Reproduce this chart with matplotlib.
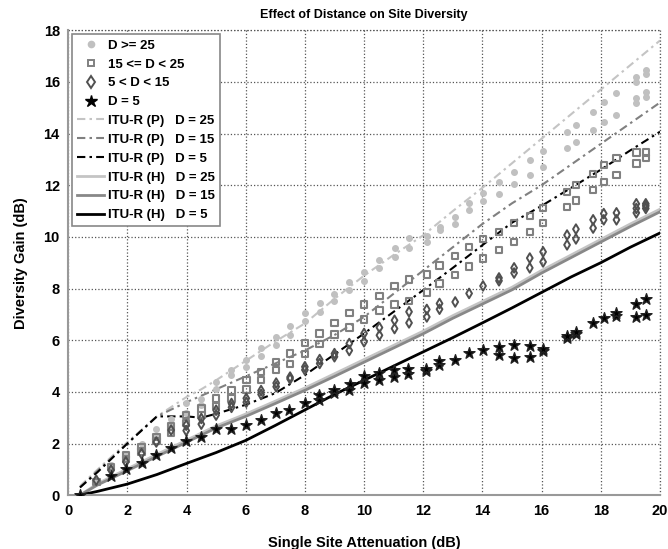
import numpy as np
import matplotlib
matplotlib.use("Agg")
import matplotlib.pyplot as plt
from matplotlib.lines import Line2D

plt.rcParams['font.family'] = ['Liberation Sans', 'DejaVu Sans']
plt.rcParams['font.weight'] = 'bold'

# ---------------- Measured diversity gain (dB) ----------------
# D >= 25 km
d25_x = [0.95, 1.45, 1.45, 1.95, 1.95, 2.48, 2.48, 2.98, 2.98, 3.48, 3.48, 3.99, 3.99, 4.5, 4.5,
         5.0, 5.0, 5.52, 5.52, 6.02, 6.02, 6.52, 6.52, 7.03, 7.03, 7.5, 7.5, 8.0, 8.0, 8.5, 8.5,
         9.0, 9.0, 9.5, 9.5, 10.0, 10.0, 10.52, 10.52, 11.03, 11.03, 11.52, 11.52, 12.12, 12.12,
         12.55, 12.55, 13.08, 13.08, 13.55, 13.55, 14.02, 14.02, 14.56, 14.56, 15.07, 15.07,
         15.6, 15.6, 16.05, 16.05, 16.86, 16.86, 17.16, 17.16, 17.74, 17.74, 18.1, 18.1,
         18.53, 18.53, 19.2, 19.2, 19.2, 19.2, 19.52, 19.52, 19.52, 19.52]
d25_y = [0.6, 1.16, 1.0, 1.6, 1.4, 2.0, 1.8, 2.55, 2.3, 2.95, 2.7, 3.55, 3.2, 3.74, 3.5,
         4.38, 4.13, 4.84, 4.64, 5.23, 4.97, 5.7, 5.38, 6.12, 5.81, 6.55, 6.2, 7.05, 6.73, 7.44, 7.09,
         7.8, 7.5, 8.25, 7.95, 8.64, 8.3, 9.1, 8.79, 9.57, 9.22, 9.95, 9.57, 10.04, 9.82,
         10.39, 10.25, 10.77, 10.5, 11.32, 11.03, 11.7, 11.4, 12.13, 11.67, 12.52, 12.05,
         12.98, 12.4, 13.33, 12.71, 14.07, 13.45, 14.34, 13.68, 14.84, 14.15, 15.23, 14.46,
         15.58, 14.73, 16.2, 16.0, 15.39, 15.2, 16.47, 16.3, 15.6, 15.4]

# 15 <= D < 25 km
d15_x = [0.95, 1.45, 1.95, 1.95, 2.48, 2.48, 2.98, 2.98, 3.48, 3.48, 3.99, 3.99, 4.5, 4.5,
         5.0, 5.0, 5.52, 5.52, 6.02, 6.02, 6.52, 6.52, 7.03, 7.03, 7.5, 7.5, 8.0, 8.0, 8.5, 8.5,
         9.0, 9.0, 9.5, 9.5, 10.0, 10.0, 10.52, 10.52, 11.03, 11.03, 11.52, 11.52, 12.12, 12.12,
         12.55, 12.55, 13.08, 13.08, 13.55, 13.55, 14.02, 14.02, 14.56, 14.56, 15.07, 15.07,
         15.6, 15.6, 16.05, 16.05, 16.86, 16.86, 17.16, 17.16, 17.74, 17.74, 18.1, 18.1,
         18.53, 18.53, 19.2, 19.2, 19.52, 19.52]
d15_y = [0.52, 1.1, 1.55, 1.4, 1.87, 1.7, 2.26, 2.1, 2.65, 2.4, 3.1, 2.8, 3.35, 3.1,
         3.74, 3.45, 4.06, 3.75, 4.45, 4.1, 4.77, 4.45, 5.16, 4.85, 5.48, 5.07, 5.9, 5.46, 6.26, 5.85,
         6.67, 6.23, 7.06, 6.49, 7.39, 6.8, 7.72, 7.14, 8.09, 7.39, 8.35, 7.52, 8.55, 7.85,
         8.9, 8.19, 9.25, 8.52, 9.61, 8.86, 9.91, 9.16, 10.19, 9.5, 10.54, 9.81,
         10.81, 10.19, 11.12, 10.54, 11.74, 11.16, 12.0, 11.4, 12.44, 11.82, 12.79, 12.13,
         13.06, 12.4, 13.26, 12.83, 13.26, 13.06]

# 5 < D < 15 km
d5_x = [0.95, 1.45, 1.95, 2.48, 2.98, 3.48, 3.99, 3.99, 4.5, 4.5,
        5.0, 5.0, 5.52, 5.52, 6.02, 6.02, 6.52, 6.52, 7.03, 7.03, 7.5, 7.5, 8.0, 8.0, 8.5, 8.5,
        9.0, 9.0, 9.5, 9.5, 10.0, 10.0, 10.52, 10.52, 11.03, 11.03, 11.52, 11.52, 12.12, 12.12,
        12.55, 12.55, 13.08, 13.55, 14.02, 14.56, 14.56, 15.07, 15.07,
        15.6, 15.6, 16.05, 16.05, 16.86, 16.86, 17.16, 17.16, 17.74, 17.74, 18.1, 18.1,
        18.53, 18.53, 19.2, 19.2, 19.2, 19.52, 19.52, 19.52]
d5_y = [0.58, 0.97, 1.29, 1.61, 2.06, 2.52, 2.71, 2.5, 2.97, 2.75,
        3.29, 3.1, 3.55, 3.4, 3.75, 3.6, 4.05, 3.9, 4.34, 4.2, 4.57, 4.5, 4.97, 4.85, 5.25, 5.1,
        5.48, 5.36, 5.87, 5.6, 6.26, 5.94, 6.49, 6.19, 6.77, 6.45, 7.1, 6.67, 7.19, 6.9,
        7.42, 7.2, 7.48, 7.81, 8.1, 8.41, 8.3, 8.8, 8.6,
        9.18, 8.8, 9.42, 9.03, 10.07, 9.69, 10.3, 9.92, 10.66, 10.34, 10.9, 10.66,
        10.93, 10.66, 11.28, 10.93, 11.1, 11.28, 11.1, 11.2]

# D = 5 km
d0_x = [0.4, 1.45, 1.95, 2.48, 2.97, 3.48, 3.99, 4.5, 5.0, 5.52, 6.01, 6.52, 7.03, 7.47,
        8.0, 8.48, 8.48, 8.99, 9.0, 9.49, 9.52, 10.0, 10.0, 10.5, 10.5, 11.0, 11.0, 11.5, 11.5,
        12.1, 12.1, 12.53, 12.53, 13.07, 13.55, 14.02, 14.56, 14.56, 15.07, 15.07, 15.6, 15.6,
        16.05, 16.05, 16.86, 16.86, 17.16, 17.16, 17.74, 18.1, 18.5, 18.5, 19.19, 19.19,
        19.53, 19.53]
d0_y = [0.0, 0.76, 1.03, 1.25, 1.55, 1.81, 2.1, 2.25, 2.55, 2.55, 2.71, 2.91, 3.17, 3.3,
        3.56, 3.68, 3.88, 3.94, 4.06, 4.07, 4.3, 4.34, 4.6, 4.47, 4.73, 4.56, 4.84, 4.7, 4.88,
        4.8, 4.9, 5.04, 5.2, 5.23, 5.5, 5.63, 5.44, 5.73, 5.3, 5.81, 5.36, 5.77,
        5.58, 5.65, 6.08, 6.15, 6.25, 6.32, 6.67, 6.86, 6.95, 7.05, 6.91, 7.4,
        6.97, 7.6]

# ---------------- ITU-R prediction curves ----------------
p_x = [0.4, 1, 2, 3, 4, 4.5, 5, 6, 7, 8, 9, 10, 11, 12, 13, 14, 15, 16, 17, 18, 19, 20]
p25_y = [0.35, 1.0, 2.05, 3.05, 3.8, 4.1, 4.45, 5.2, 5.95, 6.65, 7.6, 8.5, 9.3, 10.06, 11.0,
         11.9, 12.85, 13.8, 14.75, 15.7, 16.65, 17.6]
p15_y = [0.3, 0.95, 2.0, 3.05, 3.6, 3.85, 4.1, 4.6, 5.1, 5.6, 6.2, 6.9, 7.8, 8.7, 9.6,
         10.5, 11.3, 12.0, 12.8, 13.6, 14.4, 15.2]
p5_y = [0.3, 0.9, 2.0, 3.05, 3.05, 3.0, 3.15, 3.5, 3.95, 4.65, 5.45, 6.26, 7.1, 7.94, 8.8,
        9.68, 10.55, 11.2, 11.9, 12.6, 13.35, 14.07]

h_x = [0.4, 1, 2, 3, 4, 5, 6, 7, 8, 9, 10, 11, 12, 13, 14, 15, 16, 17, 18, 19, 20]
h25_y = [0.0, 0.45, 1.02, 1.58, 2.13, 2.68, 3.14, 3.64, 4.15, 4.7, 5.25, 5.8, 6.35, 6.95,
         7.5, 8.05, 8.7, 9.3, 9.9, 10.5, 11.07]
h15_y = [0.0, 0.4, 0.95, 1.5, 2.05, 2.6, 3.05, 3.55, 4.06, 4.6, 5.15, 5.7, 6.25, 6.85,
         7.4, 7.95, 8.6, 9.2, 9.8, 10.4, 10.97]
h5_y = [0.0, 0.15, 0.43, 0.8, 1.23, 1.65, 2.12, 2.7, 3.3, 3.9, 4.45, 5.0, 5.55, 6.1,
        6.67, 7.25, 7.85, 8.45, 9.0, 9.6, 10.15]

x_ticks = list(range(0, 21, 2))
y_ticks = list(range(0, 19, 2))

# ---------------- Plot ----------------
fig = plt.figure(figsize=(6.68, 5.49), dpi=100)
ax = fig.add_axes([0.102, 0.098, 0.886, 0.847])

dashdot = (0, (4, 2, 1.2, 2))
ax.plot(p_x, p25_y, color='#c4c4c4', lw=1.5, linestyle=dashdot, zorder=2)
ax.plot(p_x, p15_y, color='#808080', lw=1.5, linestyle=dashdot, zorder=2)
ax.plot(p_x, p5_y, color='black', lw=1.5, linestyle=dashdot, zorder=2)
ax.plot(h_x, h25_y, color='#c4c4c4', lw=2.0, zorder=2)
ax.plot(h_x, h15_y, color='#888888', lw=2.0, zorder=2)
ax.plot(h_x, h5_y, color='black', lw=2.0, zorder=2)

ax.scatter(d25_x, d25_y, s=16, marker='o', color='#c0c0c0', edgecolors='#c0c0c0', zorder=3)
ax.scatter(d15_x, d15_y, s=22, marker='s', facecolors='none', edgecolors='#808080',
           linewidths=1.5, zorder=3)
ax.scatter(d5_x, d5_y, s=24, marker='d', facecolors='none', edgecolors='#505050',
           linewidths=1.4, zorder=3)
ax.scatter(d0_x, d0_y, s=70, marker='*', color='black', edgecolors='#222222', zorder=4)

ax.set_xlim(0, 20)
ax.set_ylim(0, 18)
ax.set_xticks(x_ticks)
ax.set_yticks(y_ticks)
ax.tick_params(labelsize=10.5, length=0, pad=6)
for lbl in ax.get_xticklabels() + ax.get_yticklabels():
    lbl.set_fontweight('bold')
ax.grid(True, linestyle=':', color='#555555', linewidth=0.9)
for side in ['top', 'right']:
    ax.spines[side].set_visible(False)
for side in ['left', 'bottom']:
    ax.spines[side].set_color('#999999')
    ax.spines[side].set_linewidth(1.5)
# dotted border on top/right like the grid
ax.axhline(18, linestyle=':', color='#555555', linewidth=0.9, clip_on=False)
ax.axvline(20, linestyle=':', color='#555555', linewidth=0.9, clip_on=False)

ax.set_title('Effect of Distance on Site Diversity', fontsize=9, fontweight='bold', pad=9)
ax.set_xlabel('Single Site Attenuation (dB)', fontsize=10.5, fontweight='bold', labelpad=13)
ax.set_ylabel('Diversity Gain (dB)', fontsize=10.5, fontweight='bold', labelpad=11)

handles = [
    Line2D([], [], marker='o', ls='none', color='#c0c0c0', markersize=4.5),
    Line2D([], [], marker='s', ls='none', mfc='none', mec='#808080', mew=1.4, markersize=5),
    Line2D([], [], marker='d', ls='none', mfc='none', mec='#505050', mew=1.4, markersize=6),
    Line2D([], [], marker='*', ls='none', color='black', markersize=9),
    Line2D([], [], color='#c4c4c4', lw=1.5, linestyle=dashdot),
    Line2D([], [], color='#808080', lw=1.5, linestyle=dashdot),
    Line2D([], [], color='black', lw=1.5, linestyle=dashdot),
    Line2D([], [], color='#c4c4c4', lw=2.0),
    Line2D([], [], color='#888888', lw=2.0),
    Line2D([], [], color='black', lw=2.0),
]
labels = ['D >= 25', '15 <= D < 25', '5 < D < 15', 'D = 5',
          'ITU-R (P)   D = 25', 'ITU-R (P)   D = 15', 'ITU-R (P)   D = 5',
          'ITU-R (H)   D = 25', 'ITU-R (H)   D = 15', 'ITU-R (H)   D = 5']
leg = ax.legend(handles, labels, loc='upper left', bbox_to_anchor=(0.0, 1.0),
                prop={'weight': 'bold', 'size': 9.5}, fancybox=False, framealpha=1,
                edgecolor='#888888', handlelength=2.0, handletextpad=0.3,
                labelspacing=0.5, borderaxespad=0.3, borderpad=0.4)
leg.get_frame().set_linewidth(1.2)

fig.savefig('out.png', dpi=100)
